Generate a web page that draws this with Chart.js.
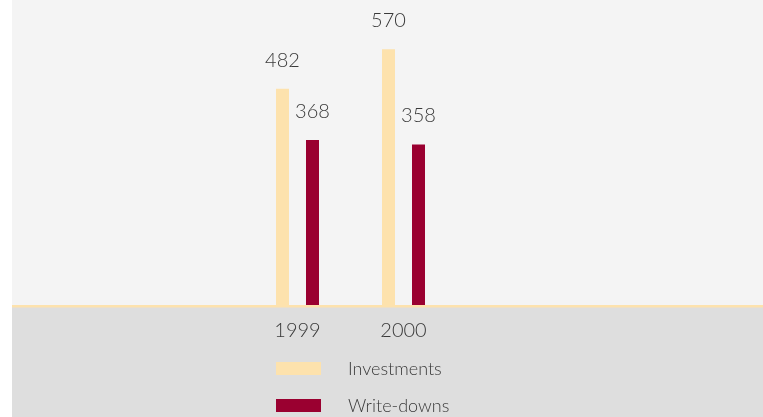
<!DOCTYPE html>
<html>
<head>
<meta charset="utf-8">
<script src="https://cdn.jsdelivr.net/npm/chart.js@4/dist/chart.umd.min.js"></script>
<style>
html,body{margin:0;padding:0;background:#ffffff;}
#wrap{position:relative;width:763px;height:417px;}
</style>
</head>
<body>
<div id="wrap"><canvas id="c" width="763" height="417"></canvas></div>
<script>
const categories = ["1999", "2000"];
const seriesNames = ["Investments", "Write-downs"];
const investments = [482, 570];
const writeDowns = [368, 358];
const seriesColors = ["#fde2ad", "#9a0030"];

const FONT = "Lato, 'Open Sans', sans-serif";
const TEXT = "#3a3a3a";

const backdrop = {
  id: 'backdrop',
  beforeDraw(chart) {
    const ctx = chart.ctx;
    const a = chart.chartArea;
    ctx.save();
    ctx.fillStyle = '#f4f4f4';
    ctx.fillRect(12, 0, chart.width - 12, a.bottom);
    ctx.fillStyle = '#dedede';
    ctx.fillRect(12, a.bottom, chart.width - 12, chart.height - a.bottom);
    ctx.restore();
  },
  afterDatasetsDraw(chart) {
    const ctx = chart.ctx;
    const a = chart.chartArea;
    ctx.save();
    ctx.fillStyle = seriesColors[0];
    ctx.fillRect(12, a.bottom, chart.width - 12, 2.5);
    // value labels
    ctx.fillStyle = TEXT;
    ctx.font = "300 20px " + FONT;
    ctx.textAlign = 'center';
    ctx.textBaseline = 'alphabetic';
    chart.data.datasets.forEach((ds, di) => {
      const meta = chart.getDatasetMeta(di);
      meta.data.forEach((bar, i) => {
        ctx.fillText(String(ds.data[i]), bar.x, bar.y - 22);
      });
    });
    // legend
    const first = chart.getDatasetMeta(0).data[0];
    const lx = first.x - first.width / 2;
    const rows = [362, 399];
    ctx.font = "300 18px " + FONT;
    ctx.textAlign = 'left';
    ctx.textBaseline = 'middle';
    chart.data.datasets.forEach((ds, di) => {
      ctx.fillStyle = ds.backgroundColor;
      ctx.fillRect(lx, rows[di], 45, 13);
      ctx.fillStyle = TEXT;
      ctx.fillText(ds.label, lx + 72, rows[di] + 7);
    });
    ctx.restore();
  }
};

new Chart(document.getElementById('c'), {
  type: 'bar',
  data: {
    labels: categories,
    datasets: [
      { label: seriesNames[0], data: investments, backgroundColor: seriesColors[0] },
      { label: seriesNames[1], data: writeDowns, backgroundColor: seriesColors[1] }
    ]
  },
  options: {
    responsive: false,
    animation: false,
    devicePixelRatio: 1,
    layout: { padding: { left: 244.5, right: 306.5, top: 0, bottom: 0 } },
    datasets: { bar: { categoryPercentage: 60 / 106, barPercentage: 13 / 30 } },
    plugins: { legend: { display: false }, tooltip: { enabled: false } },
    scales: {
      x: {
        grid: { display: false, drawTicks: false },
        border: { display: false },
        ticks: { color: TEXT, font: { family: FONT, size: 20, weight: 300 }, padding: 14 },
        afterFit(scale) { scale.height = 112; }
      },
      y: {
        display: false,
        min: 0,
        max: 680
      }
    }
  },
  plugins: [backdrop]
});
</script>
</body>
</html>
